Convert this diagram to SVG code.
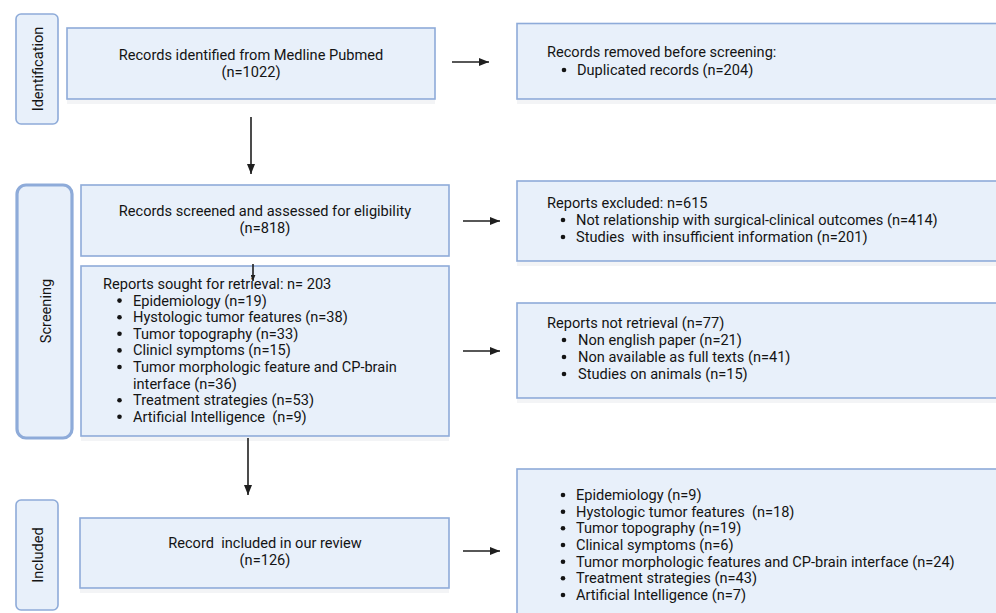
<svg xmlns="http://www.w3.org/2000/svg" width="996" height="613" viewBox="0 0 996 613">
<defs>
<style>
.box{fill:#e8f0fa;stroke:#8eabd9;stroke-width:1.6}
.lab{fill:#e8f0fa;stroke:#8eabd9;stroke-width:1.6}
.labthick{fill:#e8f0fa;stroke:#8eabd9;stroke-width:3.2}
.shadow{fill:#f3f4f6}
text{font-family:Roboto,"Liberation Sans",sans-serif;font-size:14.6px;fill:#141414;white-space:pre}
.c{text-anchor:middle}
.dot{fill:#141414}
.conn{stroke:#1f1f1f;stroke-width:1.6;fill:none}
</style>
<marker id="ah" viewBox="0 0 10 8" refX="10" refY="4" markerWidth="10" markerHeight="8" markerUnits="userSpaceOnUse" orient="auto">
<path d="M0,0 L10,4 L0,8 Z" fill="#1f1f1f"/>
</marker>
<marker id="ahs" viewBox="0 0 10 8" refX="10" refY="4" markerWidth="6" markerHeight="5" markerUnits="userSpaceOnUse" orient="auto">
<path d="M0,0 L10,4 L0,8 Z" fill="#1f1f1f"/>
</marker>
</defs>
<rect width="996" height="613" fill="#ffffff"/>

<g id="label-identification">
<rect class="lab" x="16" y="14" width="42" height="110" rx="5"/>
<text class="c" transform="translate(43,69) rotate(-90)">Identification</text>
</g>
<g id="label-screening">
<rect class="labthick" x="17" y="185" width="55" height="253" rx="9"/>
<text class="c" transform="translate(51,311) rotate(-90)">Screening</text>
</g>
<g id="label-included">
<rect class="lab" x="16" y="500" width="42" height="110" rx="5"/>
<text class="c" transform="translate(43,555) rotate(-90)">Included</text>
</g>

<g id="identified">
<rect class="shadow" x="67" y="100" width="368" height="4"/>
<rect class="box" x="67" y="28" width="368" height="71"/>
<text class="c" x="251" y="60">Records identified from Medline Pubmed</text>
<text class="c" x="251" y="77">(n=1022)</text>
</g>

<g id="removed">
<rect class="shadow" x="517" y="100" width="483" height="4"/>
<rect class="box" x="517" y="23.5" width="483" height="75.5"/>
<text x="547" y="57">Records removed before screening:</text>
<circle class="dot" cx="564" cy="70" r="2.3"/><text x="577" y="75">Duplicated records (n=204)</text>
</g>

<g id="screened">
<rect class="box" x="81" y="185" width="368" height="71"/>
<text class="c" x="265" y="216">Records screened and assessed for eligibility</text>
<text class="c" x="265" y="233.3">(n=818)</text>
</g>

<g id="excluded">
<rect class="shadow" x="517" y="262" width="483" height="4"/>
<rect class="box" x="517" y="181" width="483" height="80"/>
<text x="547" y="208">Reports excluded: n=615</text>
<circle class="dot" cx="563" cy="220" r="2.3"/><text x="576" y="225">Not relationship with surgical-clinical outcomes (n=414)</text>
<circle class="dot" cx="563" cy="237" r="2.3"/><text x="576" y="242">Studies  with insufficient information (n=201)</text>
</g>

<g id="sought">
<rect class="shadow" x="81" y="437" width="368" height="4"/>
<rect class="box" x="81" y="266" width="368" height="170"/>
<text x="103" y="289">Reports sought for retrieval: n= 203</text>
<circle class="dot" cx="119.5" cy="300.6" r="2.3"/><text x="133" y="305.6">Epidemiology (n=19)</text>
<circle class="dot" cx="119.5" cy="317.2" r="2.3"/><text x="133" y="322.2">Hystologic tumor features (n=38)</text>
<circle class="dot" cx="119.5" cy="333.8" r="2.3"/><text x="133" y="338.8">Tumor topography (n=33)</text>
<circle class="dot" cx="119.5" cy="350.4" r="2.3"/><text x="133" y="355.4">Clinicl symptoms (n=15)</text>
<circle class="dot" cx="119.5" cy="367" r="2.3"/><text x="133" y="372">Tumor morphologic feature and CP-brain</text>
<text x="133" y="388.6">interface (n=36)</text>
<circle class="dot" cx="119.5" cy="400.2" r="2.3"/><text x="133" y="405.2">Treatment strategies (n=53)</text>
<circle class="dot" cx="119.5" cy="416.8" r="2.3"/><text x="133" y="421.8">Artificial Intelligence  (n=9)</text>
</g>

<g id="not-retrieved">
<rect class="shadow" x="517" y="399" width="483" height="4"/>
<rect class="box" x="517" y="303" width="483" height="95"/>
<text x="547" y="328">Reports not retrieval (n=77)</text>
<circle class="dot" cx="564" cy="340" r="2.3"/><text x="578" y="345">Non english paper (n=21)</text>
<circle class="dot" cx="564" cy="357" r="2.3"/><text x="578" y="362">Non available as full texts (n=41)</text>
<circle class="dot" cx="564" cy="374" r="2.3"/><text x="578" y="379">Studies on animals (n=15)</text>
</g>

<g id="included">
<rect class="shadow" x="80" y="589" width="369" height="4"/>
<rect class="box" x="80" y="518" width="369" height="70"/>
<text class="c" x="265" y="548">Record  included in our review</text>
<text class="c" x="265" y="565">(n=126)</text>
</g>

<g id="included-topics">
<rect class="box" x="517" y="469" width="483" height="150"/>
<circle class="dot" cx="563" cy="495" r="2.3"/><text x="576" y="500">Epidemiology (n=9)</text>
<circle class="dot" cx="563" cy="511.7" r="2.3"/><text x="576" y="516.7">Hystologic tumor features  (n=18)</text>
<circle class="dot" cx="563" cy="528.3" r="2.3"/><text x="576" y="533.3">Tumor topography (n=19)</text>
<circle class="dot" cx="563" cy="545" r="2.3"/><text x="576" y="550">Clinical symptoms (n=6)</text>
<circle class="dot" cx="563" cy="561.7" r="2.3"/><text x="576" y="566.7">Tumor morphologic features and CP-brain interface (n=24)</text>
<circle class="dot" cx="563" cy="578.3" r="2.3"/><text x="576" y="583.3">Treatment strategies (n=43)</text>
<circle class="dot" cx="563" cy="595" r="2.3"/><text x="576" y="600">Artificial Intelligence (n=7)</text>
</g>

<g id="connectors">
<line class="conn" x1="452" y1="62" x2="489" y2="62" marker-end="url(#ah)"/>
<line class="conn" x1="251" y1="117" x2="251" y2="174" marker-end="url(#ah)"/>
<line class="conn" x1="463" y1="221" x2="500" y2="221" marker-end="url(#ah)"/>
<line class="conn" x1="253" y1="264" x2="253" y2="281" stroke-width="1.2" marker-end="url(#ahs)"/>
<line class="conn" x1="463" y1="351" x2="500" y2="351" marker-end="url(#ah)"/>
<line class="conn" x1="248" y1="438" x2="248" y2="495" marker-end="url(#ah)"/>
<line class="conn" x1="463" y1="551" x2="500" y2="551" marker-end="url(#ah)"/>
</g>
</svg>
